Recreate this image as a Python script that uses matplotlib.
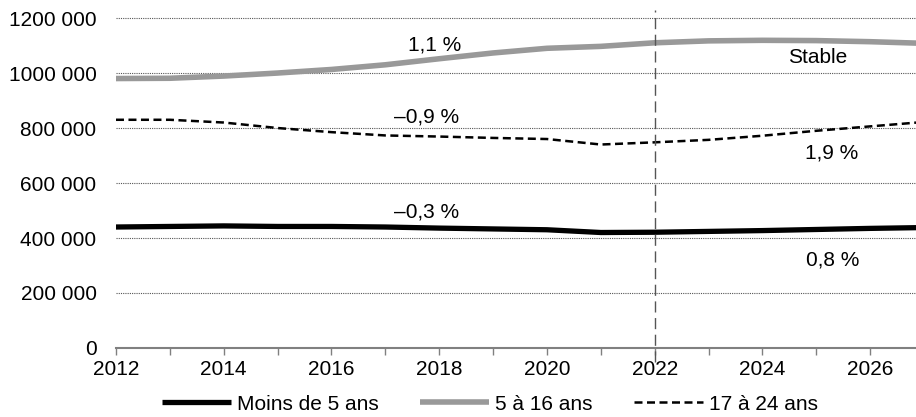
import numpy as np
import matplotlib
matplotlib.use("Agg")
import matplotlib.pyplot as plt

plt.rcParams['font.family'] = ['Liberation Sans', 'DejaVu Sans']

years = list(range(2012, 2028))
moins5 = [440, 442, 444, 442, 442, 440, 436, 433, 430, 420, 421, 424, 427, 431, 435, 438]
de5a16 = [980, 981, 989, 1000, 1013, 1030, 1052, 1073, 1090, 1097, 1110, 1117, 1119, 1118, 1114, 1108]
de17a24 = [830, 830, 820, 800, 785, 773, 769, 764, 760, 740, 748, 757, 772, 790, 806, 822]

yticks = [0, 200000, 400000, 600000, 800000, 1000000, 1200000]
ylabels = ["0", "200 000", "400 000", "600 000", "800 000", "1000 000", "1200 000"]
xticks = [2012, 2014, 2016, 2018, 2020, 2022, 2024, 2026]

notes = [("1,1 %", 2017.92, 1102000), ("–0,9 %", 2017.77, 840000), ("–0,3 %", 2017.77, 494000),
         ("Stable", 2025.03, 1058000), ("1,9 %", 2025.29, 709000), ("0,8 %", 2025.31, 320000)]

fs = 15
fig = plt.figure(figsize=(9.16, 4.17), dpi=100)
ax = fig.add_axes([0.1266, 0.1655, 0.8734, 0.811])

yr = np.array(years)
ax.plot(yr, np.array(moins5) * 1000, color='black', lw=3.8, label='Moins de 5 ans', solid_capstyle='butt')
ax.plot(yr, np.array(de5a16) * 1000, color='#999999', lw=4.0, label='5 à 16 ans', solid_capstyle='butt')
ax.plot(yr, np.array(de17a24) * 1000, color='black', lw=1.8, ls=(0, (3.2, 1.8)), label='17 à 24 ans')

# ligne verticale : debut de la projection
ax.axvline(2022, ymin=-0.04, ymax=1.0, color='#555555', lw=1.0, ls=(0, (8, 4)), clip_on=False)

ax.set_xlim(2012, 2026.85)
ax.set_ylim(0, 1230000)
ax.set_yticks(yticks)
ax.set_yticklabels(ylabels, fontsize=fs)
ax.set_xticks(xticks)
ax.set_xticklabels([str(x) for x in xticks], fontsize=fs)
ax.set_xticks(range(2012, 2027), minor=True)
ax.tick_params(axis='y', length=0, pad=14)
ax.tick_params(axis='x', which='both', length=5, color='#808080', width=1, pad=4)

for y in yticks[1:]:
    ax.axhline(y, color='#555555', lw=0.8, ls=(0, (1, 1)), zorder=0)

for s in ['top', 'right', 'left']:
    ax.spines[s].set_visible(False)
ax.spines['bottom'].set_color('#808080')
ax.spines['bottom'].set_linewidth(1.5)

for txt, xx, yy in notes:
    ax.text(xx, yy, txt, fontsize=fs, ha='center', va='center')

fig.legend(loc='center', bbox_to_anchor=(0.535, 0.031), ncol=3, frameon=False, fontsize=fs,
           handlelength=3.3, handletextpad=0.3, columnspacing=2.0, borderpad=0)

fig.savefig('out.png', dpi=100)
